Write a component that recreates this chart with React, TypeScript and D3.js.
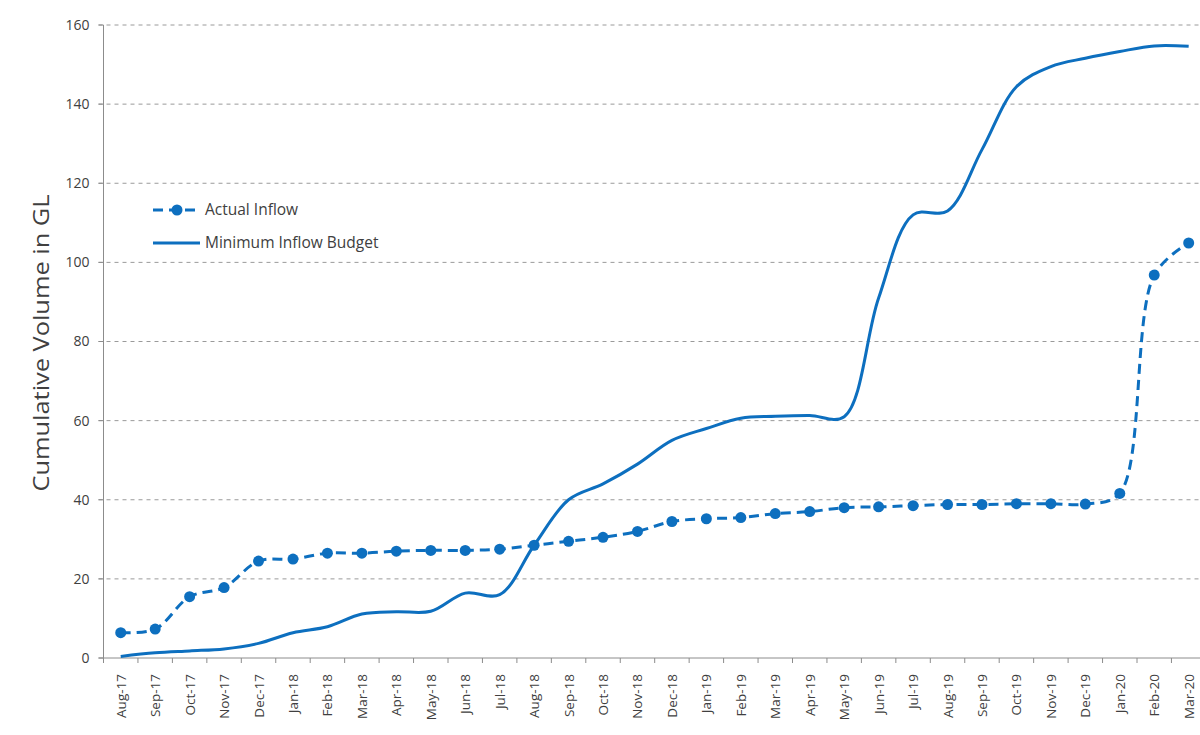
import React from "react";
import * as d3 from "d3";

const months = [
  "Aug-17","Sep-17","Oct-17","Nov-17","Dec-17","Jan-18","Feb-18","Mar-18","Apr-18","May-18","Jun-18","Jul-18",
  "Aug-18","Sep-18","Oct-18","Nov-18","Dec-18","Jan-19","Feb-19","Mar-19","Apr-19","May-19","Jun-19","Jul-19",
  "Aug-19","Sep-19","Oct-19","Nov-19","Dec-19","Jan-20","Feb-20","Mar-20",
];
const actualInflow = [
  6.4, 7.3, 15.5, 17.8, 24.5, 25, 26.5, 26.5, 27, 27.2, 27.2, 27.5,
  28.5, 29.5, 30.5, 32, 34.5, 35.2, 35.5, 36.5, 37, 38, 38.2, 38.5,
  38.8, 38.8, 39, 39, 38.9, 41.6, 96.8, 104.9,
];
const minimumBudget = [
  0.4, 1.3, 1.8, 2.3, 3.7, 6.4, 7.9, 11.1, 11.7, 11.8, 16.4, 16.0,
  28.5, 40, 44, 49, 55, 58, 60.6, 61.1, 61.3, 61, 91, 112,
  113, 128.5, 144.4, 149.5, 151.6, 153.3, 154.7, 154.6,
];
const yTicks = [0, 20, 40, 60, 80, 100, 120, 140, 160];

const W = 1200, H = 735;
const LEFT = 103.5, BAND = 34.45, TOP = 25, BOTTOM = 658;
const BLUE = "#0D6FBF";
const FONT = "'Open Sans', 'Liberation Sans', sans-serif";
const TXT = "#404040";

export default function App() {
  const x = d3.scaleBand<string>().domain(months).range([LEFT, LEFT + BAND * months.length]).padding(0);
  const y = d3.scaleLinear().domain([0, 160]).range([BOTTOM, TOP]);
  const cx = (m: string) => (x(m) as number) + x.bandwidth() / 2;

  const curve = d3.curveCatmullRom.alpha(0.5);
  const lineBudget = d3.line<number>().x((_, i) => cx(months[i])).y((d) => y(d)).curve(curve);
  const lineActual = d3.line<number>().x((_, i) => cx(months[i])).y((d) => y(d)).curve(curve);

  const tickXs = d3.range(months.length + 1).map((i) => LEFT + i * BAND);

  return (
    <svg width={W} height={H} style={{ position: "absolute", left: 0, top: 0, background: "#fff" }}>
      <rect x={0} y={0} width={W} height={H} fill="#fff" />
      {/* gridlines */}
      {yTicks.filter((t) => t > 0).map((t) => (
        <line key={t} x1={LEFT - 5} x2={W} y1={y(t)} y2={y(t)} stroke="#9a9a9a" strokeWidth={1} strokeDasharray="4 4" />
      ))}
      {/* y axis */}
      <line x1={LEFT} x2={LEFT} y1={TOP} y2={BOTTOM} stroke="#8c8c8c" strokeWidth={1} />
      {yTicks.map((t) => (
        <g key={t}>
          <line x1={LEFT - 5} x2={LEFT} y1={y(t)} y2={y(t)} stroke="#8c8c8c" />
          <text x={LEFT - 14} y={y(t)} dy="0.35em" textAnchor="end" fontFamily={FONT} fontSize={14} fill={TXT}>{t}</text>
        </g>
      ))}
      {/* x axis */}
      <line x1={LEFT - 5} x2={W} y1={BOTTOM} y2={BOTTOM} stroke="#8c8c8c" strokeWidth={1} />
      {tickXs.map((tx, i) => (
        <line key={i} x1={tx} x2={tx} y1={BOTTOM} y2={BOTTOM + 5} stroke="#8c8c8c" />
      ))}
      {months.map((m) => (
        <text key={m} transform={`translate(${cx(m) + 5},${BOTTOM + 16}) rotate(-90)`} textAnchor="end"
          fontFamily={FONT} fontSize={13.5} fill={TXT}>{m}</text>
      ))}
      {/* y axis title */}
      <text transform={`translate(49,343) rotate(-90)`} textAnchor="middle"
        fontFamily={FONT} fontSize={22} fill={TXT} textLength={297} lengthAdjust="spacingAndGlyphs">Cumulative Volume in GL</text>
      {/* series */}
      <path d={lineBudget(minimumBudget) as string} fill="none" stroke={BLUE} strokeWidth={3} />
      <path d={lineActual(actualInflow) as string} fill="none" stroke={BLUE} strokeWidth={3} strokeDasharray="10 6" />
      {actualInflow.map((v, i) => (
        <circle key={i} cx={cx(months[i])} cy={y(v)} r={5.5} fill={BLUE} />
      ))}
      {/* legend */}
      <g>
        <line x1={153} x2={200} y1={210} y2={210} stroke={BLUE} strokeWidth={3} strokeDasharray="10 6" />
        <circle cx={177} cy={210} r={5.5} fill={BLUE} />
        <text x={205} y={210} dy="0.35em" fontFamily={FONT} fontSize={15.5} fill={TXT}>Actual Inflow</text>
        <line x1={153} x2={200} y1={243} y2={243} stroke={BLUE} strokeWidth={3} />
        <text x={205} y={243} dy="0.35em" fontFamily={FONT} fontSize={15.5} fill={TXT}>Minimum Inflow Budget</text>
      </g>
    </svg>
  );
}
